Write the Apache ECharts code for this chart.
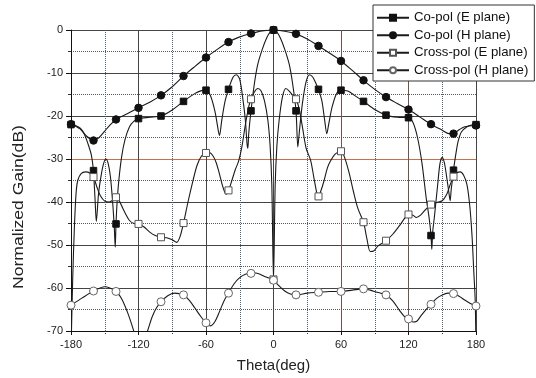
<!DOCTYPE html>
<html>
<head>
<meta charset="utf-8">
<script src="https://cdn.jsdelivr.net/npm/echarts@6/dist/echarts.min.js"></script>
<style>html,body{margin:0;padding:0;background:#fff;}#c{width:536px;height:378px;}</style>
</head>
<body>
<div id="c"></div>
<script>
// ---- data ----
const seriesNames = ['Co-pol (E plane)', 'Co-pol (H plane)', 'Cross-pol (E plane)', 'Cross-pol (H plane)'];
const markerTheta = [-180,-160,-140,-120,-100,-80,-60,-40,-20,0,20,40,60,80,100,120,140,160,180];

const coE_theta = [-180,-176,-171.5,-168,-165,-162,-160,-159.5,-158.5,-157.5,-155.5,-153,-151,-149,-147,-145,-143,-141.5,-140.7,-140,-139,-137.5,-135,-132,-128,-124,-120,-110,-100,-90,-80,-70,-64,-60,-56,-52,-49,-48,-46,-43,-40,-36,-33,-30,-27,-25,-23.5,-22.8,-22,-20,-17,-14,-10,-6,-3,0,3,6,10,14,17,20,21.6,22.5,24,26,29,32,35,38,40,43,45.5,47.4,49,52,56,60,66,72,80,90,100,110,120,124,128,132,135.7,138.5,140,140.7,141.5,143,146,148,150,152,153.5,156,157,158,159.5,160,162,164,167,172,176,180];
const coE_gain  = [-22.0,-22.2,-22.9,-24.3,-26.4,-29,-32.7,-35,-40,-44.5,-38,-33.5,-31,-30,-31,-34,-40,-46,-50.5,-45.1,-40,-35,-29.5,-25.5,-22.5,-21.2,-20.6,-20.3,-20.0,-18.6,-16.6,-14.8,-14.1,-14.0,-15.3,-19,-23.5,-24.5,-21,-16.5,-13.8,-11.0,-10.4,-11.5,-16.5,-21,-26.5,-27.5,-24,-18.8,-12.5,-8,-4.5,-1.8,-0.5,0,-0.5,-1.8,-4.5,-8,-12.5,-18.8,-27.2,-25,-21,-16.5,-12,-10.4,-11,-12.6,-13.8,-16.5,-21,-24.1,-22,-18,-14.8,-14.0,-14.2,-15.2,-16.6,-18.5,-19.8,-20.3,-20.4,-21.5,-25,-31,-39,-44,-47.8,-51,-47,-43.5,-35.8,-31,-29.6,-31,-33.4,-38,-39.7,-37,-34,-32.6,-29,-26,-23.7,-22.5,-22.1,-22.0];

const coH_theta = [-180,-172,-166,-160,-155,-150,-145,-140,-130,-120,-110,-100,-90,-80,-70,-60,-50,-40,-30,-20,-10,0,10,20,30,40,50,60,70,80,90,100,110,120,130,140,150,156,160,165,170,180];
const coH_gain  = [-21.9,-23,-24.7,-25.7,-25,-23.5,-22,-20.8,-19.5,-18.1,-16.8,-15.2,-13.2,-10.7,-8.5,-6.4,-4.5,-2.8,-1.6,-0.8,-0.2,0,-0.3,-0.9,-2.1,-3.7,-5.4,-7.2,-9.4,-11.7,-13.8,-15.6,-17.1,-18.5,-20.2,-21.9,-23.3,-24.1,-24.1,-23.2,-22.5,-22.2];

const crE_theta = [-180,-178.5,-177,-175.5,-174,-171,-167,-163,-160,-157,-154,-150,-146,-143,-140,-137,-133,-128,-124,-120,-115,-110,-105,-100,-95,-90,-86,-83,-80,-76,-72,-68,-64,-60,-57,-54,-51,-48,-45,-42,-40,-37,-34,-31,-28,-25,-22,-20,-17,-14,-11,-8,-5,-3,-1.5,0,1.5,3,5,8,11,14,17,20,23,26,29,33,36,39,40,42,45,48,51,55,60,63,67,71,75,80,83,86,89,93,100,106,112,116,120,124,127,131,135,140,145,150,154,157,160,163,166,169,172,174.5,176.5,178,179.3,180];
const crE_gain  = [-75,-58,-46,-38,-35,-33.4,-33.0,-33.3,-34.2,-36.5,-38.5,-39.8,-40,-39.6,-38.9,-39.8,-42,-44.3,-45,-45.1,-45.8,-47,-47.8,-48.2,-48.3,-48.8,-49.4,-48,-44.9,-40,-35.5,-31.5,-29.3,-28.6,-28.5,-29.2,-30.8,-33.5,-36.5,-38.2,-37.3,-35,-32.5,-30.5,-27,-22,-17.8,-16.1,-14.4,-13.6,-14.2,-16.5,-21,-27,-36,-58,-36,-27,-21,-15.5,-13.6,-14.2,-15.2,-16.1,-18.5,-23,-27.5,-30.3,-34.5,-38.5,-38.7,-37.5,-35,-32,-30.3,-28.8,-28.2,-29.5,-33,-37.5,-41.5,-44.7,-48.5,-51.5,-51.4,-50.2,-49.0,-47.5,-45.5,-44,-42.9,-43.1,-43.6,-43,-41.8,-40.6,-40.1,-39.7,-38.2,-36,-34.1,-33.2,-33.0,-33.8,-36,-41,-48,-56,-63,-75];

const crH_theta = [-180,-170,-160,-150,-140,-135,-130,-126,-123,-120,-116,-112,-108,-104,-100,-94,-88,-84,-80,-75,-70,-65,-60,-56,-52,-48,-44,-40,-35,-30,-25,-20,-16,-12,-8,-4,0,5,10,15,20,30,40,50,60,70,80,86,92,100,106,112,117,120,124,127,131,135,140,145,150,155,160,165,170,175,180];
const crH_gain  = [-64.0,-62.3,-60.7,-59.7,-60.8,-62.5,-65.5,-68.5,-71,-73,-72.5,-70,-66.8,-64.6,-63.2,-61.8,-61.2,-61.3,-61.6,-62.8,-64.6,-66.5,-68.1,-68.8,-67.8,-65.5,-63,-61.2,-59,-57.6,-56.8,-56.6,-56.5,-56.8,-57.3,-57.7,-58.2,-59.5,-60.7,-61.4,-61.6,-61.2,-61.0,-60.8,-60.8,-60.5,-60.2,-60.5,-61,-61.6,-63,-65.2,-66.8,-67.2,-67.9,-67.8,-66.5,-65.2,-63.8,-62.4,-61.6,-61.2,-61.3,-61.9,-62.8,-63.6,-64.2];

// ---- build ----
function build(th, g) {
  return th.map((t, i) => markerTheta.indexOf(t) >= 0 ? { value: [t, g[i]] } : { value: [t, g[i]], symbol: 'none' });
}
const LINE = '#1a1a1a';
function mk(name, th, g, symbol, size, fill, border) {
  return {
    name: name, type: 'line', data: build(th, g), smooth: 0.3,
    symbol: symbol, symbolSize: size, showSymbol: true,
    lineStyle: { color: LINE, width: 1.1 },
    itemStyle: { color: fill, borderColor: border, borderWidth: 1 },
    emphasis: { disabled: true }, animation: false, clip: true
  };
}
const font = "'Liberation Sans', Arial, sans-serif";
const chart = echarts.init(document.getElementById('c'), null, { renderer: 'canvas' });
chart.setOption({
  backgroundColor: '#fff',
  animation: false,
  grid: { left: 71, right: 60, top: 30, bottom: 47, containLabel: false },
  legend: {
    orient: 'vertical', left: 373, top: 5,
    padding: [6, 6, 4, 3], itemGap: 4, itemWidth: 32, itemHeight: 7.5,
    backgroundColor: '#fff', borderColor: '#333', borderWidth: 1,
    textStyle: { fontFamily: font, fontSize: 13.2, color: '#111', lineHeight: 13.5 },
    data: seriesNames
  },
  xAxis: {
    type: 'value', min: -180, max: 180, interval: 60,
    name: 'Theta(deg)', nameLocation: 'middle', nameGap: 27,
    nameTextStyle: { fontFamily: font, fontSize: 15, color: '#222' },
    axisLine: { show: true, onZero: false, lineStyle: { color: '#111', width: 1 } },
    axisTick: { show: true, length: 4, lineStyle: { color: '#111' } },
    minorTick: { show: true, splitNumber: 2, length: 3, lineStyle: { color: '#333', type: 'dotted' } },
    axisLabel: { fontFamily: font, fontSize: 11, color: '#222', margin: 8 },
    splitLine: { show: true, lineStyle: { color: ['#444','#444','#444','#444','#6a5550','#6a5550','#444'], width: 1 } },
    minorSplitLine: { show: true, lineStyle: { color: '#4d5f73', type: 'dotted', width: 1 } }
  },
  yAxis: {
    type: 'value', min: -70, max: 0, interval: 10,
    axisLine: { show: true, onZero: false, lineStyle: { color: '#111', width: 1 } },
    axisTick: { show: true, length: 5, lineStyle: { color: '#111' } },
    minorTick: { show: true, splitNumber: 2, length: 3, lineStyle: { color: '#333' } },
    axisLabel: { fontFamily: font, fontSize: 11, color: '#222', margin: 8 },
    splitLine: { show: true, lineStyle: { color: ['#444','#444','#444','#444','#c8704a','#444','#444','#444'], width: 1 } },
    minorSplitLine: { show: true, lineStyle: { color: '#555', type: 'dotted', width: 1 } }
  },
  graphic: [{
    type: 'text', x: 19, y: 207, rotation: Math.PI / 2, scaleX: 1.17, scaleY: 1,
    style: { text: 'Normalized Gain(dB)', fontFamily: font, fontSize: 15, fill: '#222', align: 'center', verticalAlign: 'middle' }
  }],
  series: [
    mk(seriesNames[0], coE_theta, coE_gain, 'rect', 6.5, '#111', '#111'),
    mk(seriesNames[1], coH_theta, coH_gain, 'circle', 7.5, '#111', '#111'),
    mk(seriesNames[2], crE_theta, crE_gain, 'rect', 7, '#fff', '#555'),
    mk(seriesNames[3], crH_theta, crH_gain, 'circle', 8, '#fff', '#666')
  ]
});
</script>
</body>
</html>
